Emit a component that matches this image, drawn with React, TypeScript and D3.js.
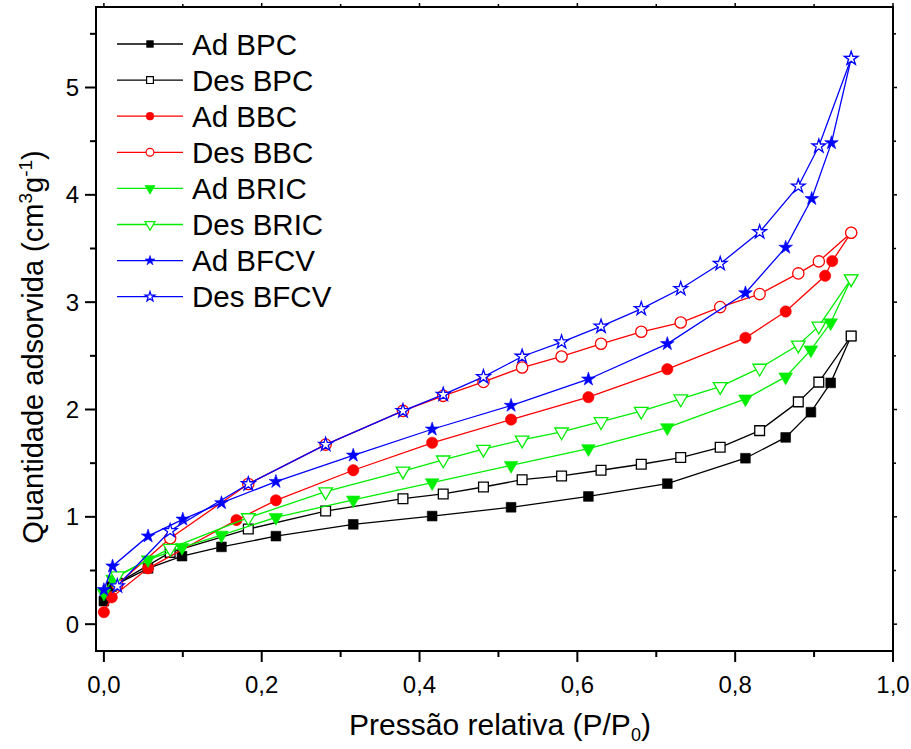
import React from "react";
import * as d3 from "d3";

// Isotherm data: relative pressure (P/P0) and adsorbed quantity (cm3 g-1)
const adBpcX = [0, 0.01, 0.056, 0.099, 0.149, 0.218, 0.316, 0.416, 0.516, 0.614, 0.714, 0.813, 0.864, 0.896, 0.921, 0.947];
const adBpcY = [0.215, 0.35, 0.52, 0.634, 0.72, 0.82, 0.93, 1.007, 1.089, 1.19, 1.309, 1.546, 1.74, 1.975, 2.248, 2.684];

const adBbcX = [0, 0.01, 0.056, 0.168, 0.218, 0.316, 0.416, 0.516, 0.614, 0.714, 0.813, 0.864, 0.914, 0.923, 0.947];
const adBbcY = [0.112, 0.25, 0.52, 0.97, 1.154, 1.434, 1.69, 1.906, 2.115, 2.376, 2.668, 2.913, 3.246, 3.383, 3.647];

const adBricX = [0, 0.011, 0.056, 0.099, 0.149, 0.218, 0.316, 0.416, 0.516, 0.614, 0.714, 0.813, 0.864, 0.896, 0.921, 0.947];
const adBricY = [0.29, 0.42, 0.6, 0.715, 0.83, 0.995, 1.157, 1.318, 1.48, 1.636, 1.831, 2.099, 2.304, 2.556, 2.808, 3.218];

const adBfcvX = [0, 0.011, 0.056, 0.1, 0.149, 0.218, 0.316, 0.416, 0.516, 0.614, 0.714, 0.813, 0.864, 0.897, 0.922, 0.947];
const adBfcvY = [0.32, 0.54, 0.82, 0.977, 1.13, 1.328, 1.573, 1.816, 2.037, 2.282, 2.612, 3.085, 3.51, 3.964, 4.484, 5.27];

const desX = [0.947, 0.906, 0.88, 0.831, 0.781, 0.731, 0.681, 0.63, 0.58, 0.53, 0.481, 0.43, 0.379, 0.281, 0.183, 0.084, 0.017];
const desBpcY = [2.684, 2.255, 2.071, 1.803, 1.648, 1.552, 1.49, 1.434, 1.381, 1.346, 1.278, 1.213, 1.169, 1.054, 0.886, 0.669, 0.38];
const desBbcY = [3.647, 3.38, 3.268, 3.075, 2.954, 2.81, 2.724, 2.612, 2.494, 2.391, 2.257, 2.127, 1.987, 1.673, 1.306, 0.8, 0.37];
const desBricY = [3.218, 2.777, 2.6, 2.385, 2.214, 2.099, 1.984, 1.887, 1.791, 1.716, 1.63, 1.53, 1.427, 1.234, 0.992, 0.706, 0.45];
const desBfcvY = [5.27, 4.453, 4.08, 3.654, 3.358, 3.125, 2.938, 2.774, 2.628, 2.494, 2.304, 2.139, 1.987, 1.673, 1.306, 0.87, 0.355];

const seriesNames = ["Ad BPC", "Des BPC", "Ad BBC", "Des BBC", "Ad BRIC", "Des BRIC", "Ad BFCV", "Des BFCV"];

const xTicksMajor = [0, 0.2, 0.4, 0.6, 0.8, 1.0];
const xTicksMinor = [0.1, 0.3, 0.5, 0.7, 0.9];
const yTicksMajor = [0, 1, 2, 3, 4, 5];
const yTicksMinor = [0.5, 1.5, 2.5, 3.5, 4.5, 5.5];

type Shape = "square" | "circle" | "triangle" | "star";

const series = [
  { name: seriesNames[0], xs: adBpcX, ys: adBpcY, color: "#000000", shape: "square" as Shape, filled: true },
  { name: seriesNames[1], xs: desX, ys: desBpcY, color: "#000000", shape: "square" as Shape, filled: false },
  { name: seriesNames[2], xs: adBbcX, ys: adBbcY, color: "#ff0000", shape: "circle" as Shape, filled: true },
  { name: seriesNames[3], xs: desX, ys: desBbcY, color: "#ff0000", shape: "circle" as Shape, filled: false },
  { name: seriesNames[4], xs: adBricX, ys: adBricY, color: "#00ee00", shape: "triangle" as Shape, filled: true },
  { name: seriesNames[5], xs: desX, ys: desBricY, color: "#00ee00", shape: "triangle" as Shape, filled: false },
  { name: seriesNames[6], xs: adBfcvX, ys: adBfcvY, color: "#0000ff", shape: "star" as Shape, filled: true },
  { name: seriesNames[7], xs: desX, ys: desBfcvY, color: "#0000ff", shape: "star" as Shape, filled: false },
];

const FONT = "'Liberation Sans', Arial, sans-serif";

const symbolTypes: Record<Shape, d3.SymbolType> = {
  square: d3.symbolSquare,
  circle: d3.symbolCircle,
  triangle: d3.symbolTriangle,
  star: d3.symbolStar,
};
const plotSizes: Record<Shape, number> = { square: 95, circle: 100, triangle: 80, star: 58 };
const legendSizes: Record<Shape, number> = { square: 46, circle: 48, triangle: 44, star: 30 };

function markerPath(shape: Shape, size: number) {
  return d3.symbol().type(symbolTypes[shape]).size(size)() as string;
}

export default function App() {
  const W = 911;
  const H = 749;
  const x = d3.scaleLinear().domain([-0.01, 1]).range([96, 893]);
  const y = d3.scaleLinear().domain([-0.25, 5.75]).range([651, 7]);
  const [x0, x1] = x.range();
  const [y0, y1] = y.range();

  const line = d3
    .line<[number, number]>()
    .x((d) => x(d[0]))
    .y((d) => y(d[1]));

  const fmt = (v: number) => v.toFixed(1).replace(".", ",");

  const legendX = 117;
  const legendY = 44;
  const legendStep = 36.1;

  return (
    <svg
      width={W}
      height={H}
      style={{ position: "absolute", left: 0, top: 0, background: "#fff" }}
      fontFamily={FONT}
    >
      <rect x={0} y={0} width={W} height={H} fill="#fff" />

      {/* series: line then markers, in drawing order */}
      {series.map((s) => {
        const pts = s.xs.map((v, i) => [v, s.ys[i]] as [number, number]);
        const path = markerPath(s.shape, plotSizes[s.shape]);
        return (
          <g key={s.name}>
            <path d={line(pts) as string} fill="none" stroke={s.color} strokeWidth={1.3} />
            {pts.map((p, i) => (
              <path
                key={i}
                d={path}
                transform={`translate(${x(p[0])},${y(p[1])})${s.shape === "triangle" ? " rotate(180)" : ""}`}
                fill={s.filled ? s.color : "#fff"}
                stroke={s.color}
                strokeWidth={s.filled ? 0.6 : 1.3}
              />
            ))}
          </g>
        );
      })}

      {/* frame */}
      <rect x={x0} y={y1} width={x1 - x0} height={y0 - y1} fill="none" stroke="#000" strokeWidth={2} />

      {/* bottom axis */}
      {xTicksMajor.map((t) => (
        <g key={`xM${t}`}>
          <line x1={x(t)} x2={x(t)} y1={y0} y2={y0 + 11} stroke="#000" strokeWidth={2} />
          <line x1={x(t)} x2={x(t)} y1={y1} y2={y1 - 4} stroke="#000" strokeWidth={1.5} />
          <text x={x(t)} y={693} textAnchor="middle" fontSize={24}>
            {fmt(t)}
          </text>
        </g>
      ))}
      {xTicksMinor.map((t) => (
        <g key={`xm${t}`}>
          <line x1={x(t)} x2={x(t)} y1={y0} y2={y0 + 6} stroke="#000" strokeWidth={2} />
          <line x1={x(t)} x2={x(t)} y1={y1} y2={y1 - 3} stroke="#000" strokeWidth={1.5} />
        </g>
      ))}

      {/* left axis */}
      {yTicksMajor.map((t) => (
        <g key={`yM${t}`}>
          <line x1={x0} x2={x0 - 11} y1={y(t)} y2={y(t)} stroke="#000" strokeWidth={2} />
          <line x1={x1} x2={x1 + 4} y1={y(t)} y2={y(t)} stroke="#000" strokeWidth={1.5} />
          <text x={79} y={y(t)} textAnchor="end" dominantBaseline="central" fontSize={24}>
            {t}
          </text>
        </g>
      ))}
      {yTicksMinor.map((t) => (
        <g key={`ym${t}`}>
          <line x1={x0} x2={x0 - 6} y1={y(t)} y2={y(t)} stroke="#000" strokeWidth={2} />
          <line x1={x1} x2={x1 + 3} y1={y(t)} y2={y(t)} stroke="#000" strokeWidth={1.5} />
        </g>
      ))}

      {/* axis titles */}
      <text x={500} y={735} textAnchor="middle" fontSize={30}>
        Pressão relativa (P/P
        <tspan fontSize={18} dy={6}>0</tspan>
        <tspan dy={-6}>)</tspan>
      </text>
      <text transform={`translate(43,347) rotate(-90)`} textAnchor="middle" fontSize={29}>
        Quantidade adsorvida (cm
        <tspan fontSize={19} dy={-11}>3</tspan>
        <tspan dy={11}>g</tspan>
        <tspan fontSize={19} dy={-11}>-1</tspan>
        <tspan dy={11}>)</tspan>
      </text>

      {/* legend */}
      {series.map((s, i) => {
        const ly = legendY + i * legendStep;
        return (
          <g key={`lg${s.name}`}>
            <line x1={legendX} x2={legendX + 66} y1={ly} y2={ly} stroke={s.color} strokeWidth={1.3} />
            <path
              d={markerPath(s.shape, legendSizes[s.shape])}
              transform={`translate(${legendX + 33},${ly})${s.shape === "triangle" ? " rotate(180)" : ""}`}
              fill={s.filled ? s.color : "#fff"}
              stroke={s.color}
              strokeWidth={s.filled ? 0.6 : 1.2}
            />
            <text x={192} y={ly + 10.5} fontSize={29.5}>
              {s.name}
            </text>
          </g>
        );
      })}
    </svg>
  );
}
